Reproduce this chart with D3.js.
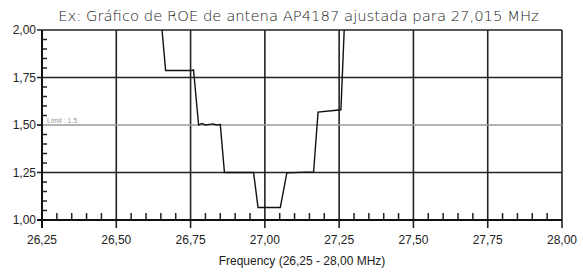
<!DOCTYPE html>
<html>
<head>
<meta charset="utf-8">
<script src="https://cdn.jsdelivr.net/npm/d3@7"></script>
<style>
  body { margin: 0; background: #fff; }
  svg { display: block; }
</style>
</head>
<body>
<div id="chart"></div>
<script>
// SWR curve
const freq = [26.654, 26.666, 26.755, 26.760, 26.777, 26.788, 26.800, 26.814, 26.827, 26.836, 26.850,
  26.864, 26.962, 26.977, 27.052, 27.074, 27.164, 27.179, 27.256, 27.267];
const swr = [2.00, 1.787, 1.787, 1.79, 1.50, 1.508, 1.50, 1.503, 1.506, 1.50, 1.503,
  1.25, 1.25, 1.066, 1.066, 1.248, 1.253, 1.568, 1.580, 2.00];
const xTicks = [26.25, 26.50, 26.75, 27.00, 27.25, 27.50, 27.75, 28.00];
const yTicks = [1.00, 1.25, 1.50, 1.75, 2.00];
const limit = 1.5;

const width = 583, height = 273;
const margin = { top: 30, right: 21, bottom: 53, left: 42 };

const svg = d3.select("#chart").append("svg")
  .attr("width", width)
  .attr("height", height);

const x = d3.scaleLinear().domain([26.25, 28.00]).range([margin.left, width - margin.right]);
const y = d3.scaleLinear().domain([1.00, 2.00]).range([height - margin.bottom, margin.top]);

const fmt = d => d3.format(".2f")(d).replace(".", ",");

// minor ticks
const xMinor = d3.range(26.25, 28.0001, 0.05).filter(v => Math.abs(v * 4 - Math.round(v * 4)) > 1e-6);
const yMinor = d3.range(1.0, 2.0001, 0.05).filter(v => Math.abs(v * 4 - Math.round(v * 4)) > 1e-6);

svg.append("g").selectAll("line").data(xMinor).join("line")
  .attr("x1", d => x(d)).attr("x2", d => x(d))
  .attr("y1", y(1)).attr("y2", y(1) - 7)
  .attr("stroke", "#222").attr("stroke-width", 1.5);

svg.append("g").selectAll("line").data(yMinor).join("line")
  .attr("x1", x(26.25)).attr("x2", x(26.25) + 5)
  .attr("y1", d => y(d)).attr("y2", d => y(d))
  .attr("stroke", "#222").attr("stroke-width", 1.5);

// grid
svg.append("g").selectAll("line").data(xTicks.slice(1)).join("line")
  .attr("x1", d => x(d)).attr("x2", d => x(d))
  .attr("y1", y(2)).attr("y2", y(1) + 8)
  .attr("stroke", "#222").attr("stroke-width", 1.6);

svg.append("g").selectAll("line").data(yTicks.filter(d => d !== limit && d !== 1)).join("line")
  .attr("x1", x(26.25) - 5).attr("x2", x(28))
  .attr("y1", d => y(d)).attr("y2", d => y(d))
  .attr("stroke", "#222").attr("stroke-width", 1.6);

// limit line
svg.append("line")
  .attr("x1", x(26.25) - 5).attr("x2", x(28))
  .attr("y1", y(limit)).attr("y2", y(limit))
  .attr("stroke", "#999").attr("stroke-width", 1.6);
svg.append("line")
  .attr("x1", x(26.25) - 5).attr("x2", x(26.25))
  .attr("y1", y(limit)).attr("y2", y(limit))
  .attr("stroke", "#222").attr("stroke-width", 1.6);
svg.append("text")
  .attr("x", x(26.25) + 5).attr("y", y(limit) - 2)
  .attr("font-family", "Liberation Sans, Arial, sans-serif")
  .attr("font-size", 7).attr("fill", "#999")
  .text("Limit : 1.5");

// axes
svg.append("line")
  .attr("x1", x(26.25)).attr("x2", x(26.25))
  .attr("y1", y(2)).attr("y2", y(1) + 8)
  .attr("stroke", "#111").attr("stroke-width", 2);
svg.append("line")
  .attr("x1", x(26.25) - 5).attr("x2", x(28))
  .attr("y1", y(1)).attr("y2", y(1))
  .attr("stroke", "#111").attr("stroke-width", 2);

// tick labels
svg.append("g").selectAll("text").data(xTicks).join("text")
  .attr("x", d => x(d)).attr("y", y(1) + 24)
  .attr("text-anchor", "middle")
  .attr("font-family", "Liberation Sans, Arial, sans-serif")
  .attr("font-size", 12).attr("fill", "#222")
  .text(fmt);

svg.append("g").selectAll("text").data(yTicks).join("text")
  .attr("x", x(26.25) - 6).attr("y", d => y(d) + 4)
  .attr("text-anchor", "end")
  .attr("font-family", "Liberation Sans, Arial, sans-serif")
  .attr("font-size", 12).attr("fill", "#222")
  .text(fmt);

svg.append("text")
  .attr("x", (x(26.25) + x(28)) / 2).attr("y", 265)
  .attr("text-anchor", "middle")
  .attr("font-family", "Liberation Sans, Arial, sans-serif")
  .attr("font-size", 12).attr("fill", "#222")
  .text("Frequency (26,25 - 28,00 MHz)");

// title
const title = svg.append("text")
  .attr("x", 298.5).attr("y", 21)
  .attr("text-anchor", "middle")
  .attr("font-family", "DejaVu Sans, sans-serif")
  .attr("font-weight", 200)
  .attr("font-size", 16).attr("fill", "#222")
  .text("Ex: Gráfico de ROE de antena AP4187 ajustada para 27,015 MHz");
const tw = title.node().getComputedTextLength();
title.attr("font-size", 16 * 481 / tw);

// curve
const pts = freq.map((f, i) => [f, swr[i]]);
svg.append("path")
  .datum(pts)
  .attr("fill", "none")
  .attr("stroke", "#111")
  .attr("stroke-width", 1.4)
  .attr("d", d3.line().x(d => x(d[0])).y(d => y(d[1])));
</script>
</body>
</html>
